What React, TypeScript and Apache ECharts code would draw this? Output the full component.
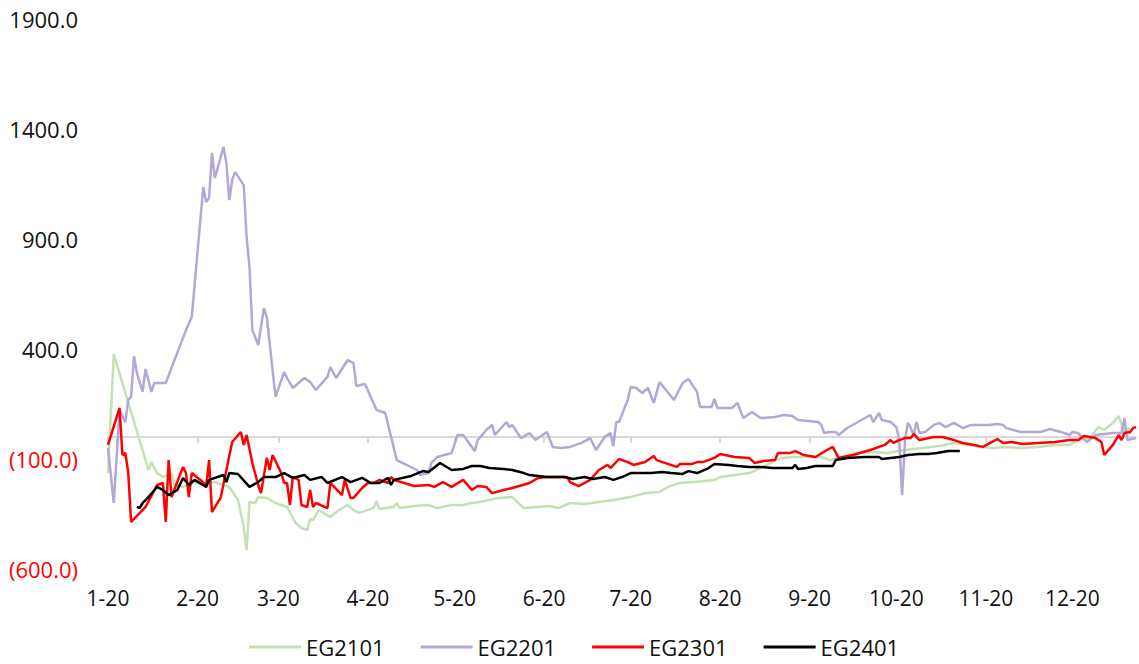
import React, { useEffect, useRef } from "react";
import * as echarts from "echarts";

// x = days after 1-20, y = value
const eg2101: [number, number][] = [
  [0, -164], [2, 377], [14, -150], [15, -114], [17, -164], [19, -182], [22, -164], [23, -218], [26, -227], [29, -209],
  [34, -209], [37, -205], [42, -227], [45, -286], [47, -409], [48, -514], [49, -295], [51, -300], [52, -273], [55, -277],
  [58, -300], [62, -318], [65, -391], [67, -414], [69, -423], [70, -373], [71, -377], [73, -332], [77, -364], [80, -332],
  [83, -309], [85, -332], [87, -345], [92, -323], [93, -291], [94, -327], [99, -318], [100, -300], [101, -323], [106, -314],
  [111, -309], [114, -323], [119, -309], [123, -309], [126, -300], [129, -295], [132, -286], [135, -277], [140, -273], [144, -323],
  [149, -318], [153, -314], [156, -323], [160, -300], [165, -305], [170, -295], [175, -286], [181, -273], [186, -255], [191, -250],
  [194, -227], [198, -209], [203, -205], [210, -195], [212, -182], [217, -173], [222, -164], [226, -141], [230, -114], [233, -95],
  [238, -91], [242, -91], [247, -91], [250, -105], [254, -91], [258, -73], [264, -68], [270, -73], [276, -59], [282, -50],
  [288, -41], [293, -27], [298, -36], [302, -45], [307, -50], [310, -45], [316, -50], [322, -45], [328, -36], [333, -36],
  [336, -14], [340, -5], [343, 45], [345, 32], [348, 64], [350, 95], [352, 23], [354, 41],
];

const eg2201: [number, number][] = [
  [0, -50], [2, -300], [4, 123], [6, 68], [7, 168], [8, 182], [9, 368], [10, 291], [12, 205], [13, 309],
  [15, 205], [16, 245], [20, 245], [27, 486], [29, 545], [33, 1136], [34, 1068], [35, 1086], [36, 1291], [37, 1177],
  [40, 1318], [41, 1245], [42, 1077], [43, 1168], [44, 1204], [47, 1145], [48, 909], [49, 773], [50, 486], [52, 418],
  [54, 586], [55, 545], [58, 182], [61, 295], [62, 268], [64, 223], [68, 268], [70, 250], [72, 214], [76, 273],
  [77, 318], [79, 268], [83, 350], [85, 336], [86, 232], [89, 241], [93, 123], [96, 109], [100, -105], [107, -150],
  [108, -173], [111, -164], [112, -118], [114, -91], [119, -73], [121, 9], [123, 9], [127, -64], [128, -14], [129, 0],
  [131, 32], [133, 55], [134, 9], [138, 68], [139, 45], [140, 55], [143, -5], [146, 18], [148, -14], [152, 23],
  [154, -45], [157, -50], [160, -45], [164, -27], [167, -5], [169, -59], [172, 0], [174, 18], [175, -41], [176, 68],
  [177, 68], [179, 136], [180, 168], [181, 227], [183, 223], [185, 200], [187, 223], [189, 155], [191, 250], [196, 168],
  [199, 245], [201, 264], [204, 205], [205, 136], [209, 136], [210, 173], [211, 132], [216, 132], [218, 155], [220, 86],
  [223, 114], [226, 86], [231, 91], [234, 100], [237, 95], [239, 77], [246, 68], [247, 55], [248, 18], [250, 23],
  [252, 23], [253, 9], [256, 41], [264, 100], [265, 68], [267, 109], [268, 77], [271, 68], [273, 45], [274, -14],
  [275, -264], [276, -14], [277, 64], [278, 41], [279, 9], [280, 68], [281, 18], [283, 23], [286, 55], [288, 64],
  [290, 45], [293, 64], [296, 41], [299, 55], [305, 55], [308, 59], [310, 55], [311, 41], [316, 23], [323, 23],
  [326, 36], [330, 23], [333, 9], [334, 23], [336, 18], [339, -23], [342, 9], [348, 18], [351, 18], [352, 86],
  [353, -14], [356, -5],
];

const eg2301: [number, number][] = [
  [0, -36], [4, 132], [5, -82], [6, -73], [7, -160], [8, -386], [13, -318], [17, -218], [19, -209], [20, -386],
  [21, -105], [22, -273], [26, -136], [27, -164], [28, -273], [29, -164], [32, -195], [34, -223], [35, -105], [36, -341],
  [39, -277], [41, -150], [43, -23], [46, 23], [47, -36], [48, 9], [50, -118], [52, -218], [53, -255], [55, -95],
  [56, -150], [57, -82], [60, -164], [61, -209], [62, -209], [63, -309], [64, -182], [66, -195], [67, -309], [69, -318],
  [70, -241], [71, -318], [72, -300], [76, -323], [77, -209], [81, -264], [82, -195], [84, -277], [85, -277], [88, -232],
  [90, -209], [92, -209], [94, -195], [97, -209], [98, -182], [99, -195], [106, -223], [111, -218], [113, -227], [116, -205],
  [119, -227], [123, -195], [126, -241], [128, -223], [131, -227], [133, -255], [137, -241], [140, -232], [146, -209], [149, -186],
  [152, -182], [159, -182], [160, -205], [163, -223], [167, -195], [170, -150], [173, -127], [174, -141], [177, -100], [180, -114],
  [182, -127], [186, -114], [189, -86], [190, -105], [192, -114], [197, -136], [198, -123], [202, -123], [204, -114], [206, -114],
  [210, -95], [212, -77], [217, -91], [222, -95], [224, -118], [227, -109], [231, -105], [232, -73], [236, -73], [238, -64],
  [241, -82], [245, -91], [249, -59], [251, -45], [253, -95], [258, -82], [264, -59], [269, -36], [271, -14], [272, -27],
  [274, -14], [276, -5], [278, -5], [279, 14], [281, -14], [286, 0], [289, 0], [293, -14], [296, -27], [300, -36],
  [303, -45], [306, -23], [308, -9], [310, -27], [313, -23], [317, -32], [322, -27], [328, -23], [333, -14], [336, -14],
  [338, 5], [342, -5], [344, -23], [345, -82], [348, -36], [350, 9], [351, -14], [352, 18], [354, 23], [355, 41],
  [356, 45],
];

const eg2401: [number, number][] = [
  [10, -318], [11, -322], [12, -300], [14, -273], [17, -227], [19, -241], [21, -264], [24, -241], [26, -186], [28, -218],
  [30, -195], [34, -227], [35, -195], [40, -173], [41, -205], [42, -164], [45, -168], [49, -227], [52, -205], [54, -182],
  [58, -182], [61, -164], [64, -186], [68, -173], [70, -195], [74, -182], [76, -209], [81, -182], [84, -205], [88, -186],
  [91, -209], [94, -209], [97, -186], [98, -218], [99, -195], [105, -177], [109, -155], [111, -159], [115, -118], [119, -150],
  [123, -145], [126, -132], [129, -132], [132, -141], [137, -145], [140, -150], [144, -164], [146, -173], [152, -182], [158, -182],
  [161, -191], [165, -182], [168, -191], [172, -182], [175, -195], [178, -182], [181, -164], [188, -164], [192, -159], [195, -164],
  [199, -168], [201, -155], [204, -164], [208, -141], [210, -123], [215, -127], [218, -132], [222, -136], [226, -136], [230, -141],
  [237, -141], [238, -127], [239, -145], [242, -141], [245, -132], [250, -132], [251, -132], [252, -105], [256, -95], [262, -91],
  [267, -91], [268, -100], [274, -91], [277, -82], [281, -77], [284, -77], [287, -73], [291, -64], [295, -64],
];

const seriesNames = ["EG2101", "EG2201", "EG2301", "EG2401"];
const seriesColors = ["#C5E0B4", "#B4A7D6", "#FF0000", "#000000"];
const yTicks = { min: -600, max: 1900, interval: 500 };

const START_MONTH = 0; // January
const START_DAY = 20;
const DAY_COUNT = 357;

function buildCategories(): string[] {
  const out: string[] = [];
  for (let i = 0; i < DAY_COUNT; i++) {
    const d = new Date(2021, START_MONTH, START_DAY + i);
    out.push(`${d.getMonth() + 1}-${d.getDate()}`);
  }
  return out;
}

const FONT = "'Open Sans', 'Noto Sans', sans-serif";
const TEXT_COLOR = "#111111";

export default function App() {
  const ref = useRef<HTMLDivElement>(null);
  useEffect(() => {
    if (!ref.current) return;
    const chart = echarts.init(ref.current, undefined, { renderer: "svg" });
    const cats = buildCategories();
    const showTick = (_i: number, v: string) => String(v).endsWith("-20");
    const datas = [eg2101, eg2201, eg2301, eg2401];
    chart.setOption({
      animation: false,
      backgroundColor: "#ffffff",
      textStyle: { fontFamily: FONT },
      grid: { left: 108, right: 3, top: 19, bottom: 95, containLabel: false },
      legend: {
        left: 249,
        top: 635,
        padding: 0,
        icon: "rect",
        itemWidth: 52,
        itemHeight: 3,
        itemGap: 36,
        textStyle: { fontSize: 22, lineHeight: 24, color: TEXT_COLOR, fontFamily: FONT },
        data: seriesNames,
      },
      xAxis: [
        {
          type: "category",
          data: cats,
          boundaryGap: false,
          axisLine: { show: true, onZero: true, lineStyle: { color: "#D9D9D9", width: 2 } },
          axisTick: { show: true, interval: showTick, length: 6, lineStyle: { color: "#D9D9D9", width: 2 } },
          axisLabel: { show: false },
          splitLine: { show: false },
        },
        {
          type: "category",
          data: cats,
          boundaryGap: false,
          position: "bottom",
          axisLine: { show: false, onZero: false },
          axisTick: { show: false },
          axisLabel: { interval: showTick, fontSize: 21, color: TEXT_COLOR, margin: 18, fontFamily: FONT },
          splitLine: { show: false },
        },
      ],
      yAxis: {
        type: "value",
        min: yTicks.min,
        max: yTicks.max,
        interval: yTicks.interval,
        axisLine: { show: false },
        axisTick: { show: false },
        splitLine: { show: false },
        axisLabel: {
          margin: 30,
          fontSize: 22,
          fontFamily: FONT,
          color: (v: any) => (Number(v) < 0 ? "#FF0000" : TEXT_COLOR),
          formatter: (v: number) => (v < 0 ? `(${Math.abs(v).toFixed(1)})` : v.toFixed(1)),
        },
      },
      series: datas.map((d, i) => ({
        name: seriesNames[i],
        type: "line",
        xAxisIndex: 0,
        data: d,
        symbol: "none",
        showSymbol: false,
        lineStyle: { color: seriesColors[i], width: 2.5 },
        itemStyle: { color: seriesColors[i] },
        z: 2 + i,
      })),
    });
    return () => chart.dispose();
  }, []);
  return <div ref={ref} style={{ position: "fixed", left: 0, top: 0, width: 1139, height: 664 }} />;
}
